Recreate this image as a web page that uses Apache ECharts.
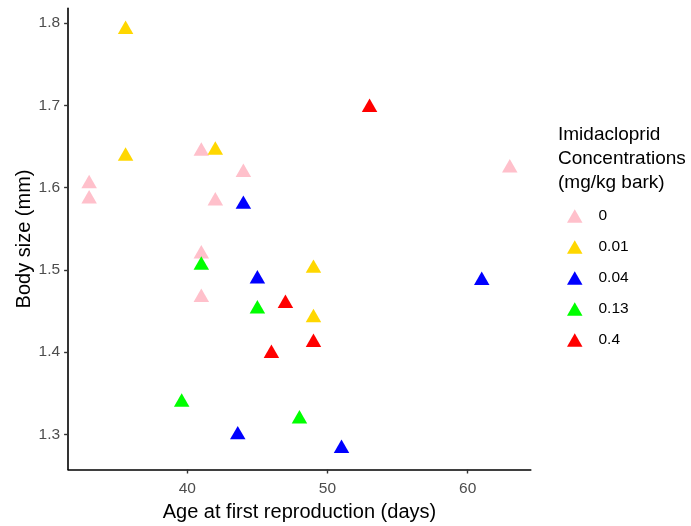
<!DOCTYPE html>
<html>
<head>
<meta charset="utf-8">
<script src="https://cdn.jsdelivr.net/npm/echarts@6/dist/echarts.min.js"></script>
<style>
  html, body { margin: 0; padding: 0; background: #ffffff; }
  #chart { width: 691px; height: 526px; }
</style>
</head>
<body>
<div id="chart"></div>
<script>
// Imidacloprid concentration groups (mg/kg bark)
const concentrations = ['0', '0.01', '0.04', '0.13', '0.4'];
const groupColors = ['#FFC0CB', '#FFD700', '#0000FF', '#00FF00', '#FF0000'];

// Age at first reproduction (days) and body size (mm) per group
const age0 = [33, 33, 41, 44, 42, 41, 41, 63];
const size0 = [1.6046, 1.586, 1.6442, 1.6183, 1.5837, 1.5193, 1.4663, 1.6237];

const age001 = [35.6, 35.6, 42, 49, 49];
const size001 = [1.7922, 1.6381, 1.6454, 1.5017, 1.4417];

const age004 = [44, 45, 43.6, 61, 51];
const size004 = [1.5795, 1.4889, 1.2993, 1.487, 1.2827];

const age013 = [41, 45, 39.6, 48];
const size013 = [1.5056, 1.4524, 1.339, 1.3187];

const age04 = [47, 46, 53, 49];
const size04 = [1.459, 1.3982, 1.6973, 1.4116];

const xTicks = [40, 50, 60];
const yTicks = [1.3, 1.4, 1.5, 1.6, 1.7, 1.8];

const ages = [age0, age001, age004, age013, age04];
const sizes = [size0, size001, size004, size013, size04];

const FONT = '"Liberation Sans", Arial, sans-serif';

const series = concentrations.map((name, g) => ({
  name: name,
  type: 'scatter',
  symbol: 'triangle',
  symbolSize: [15.5, 13.4],
  symbolOffset: [0, -2.2],
  itemStyle: { color: groupColors[g], opacity: 1 },
  emphasis: { disabled: true },
  data: ages[g].map((a, i) => [a, sizes[g][i]])
}));

const chart = echarts.init(document.getElementById('chart'), null, { renderer: 'canvas' });
chart.setOption({
  animation: false,
  backgroundColor: '#ffffff',
  title: {
    text: 'Imidacloprid\nConcentrations\n(mg/kg bark)',
    left: 558,
    top: 123,
    padding: 0,
    textStyle: {
      fontFamily: FONT,
      fontSize: 19,
      fontWeight: 'normal',
      color: '#000000',
      lineHeight: 24
    }
  },
  legend: {
    data: concentrations,
    orient: 'vertical',
    left: 567,
    top: 208,
    padding: 0,
    icon: 'triangle',
    itemWidth: 15.5,
    itemHeight: 13.4,
    itemGap: 15,
    selectedMode: false,
    textStyle: {
      fontFamily: FONT,
      fontSize: 15.5,
      color: '#000000',
      lineHeight: 14,
      padding: [0, 0, 0, 11]
    }
  },
  grid: {
    left: 68.1,
    right: 160.2,
    top: 8.4,
    bottom: 56.5,
    containLabel: false,
    outerBoundsMode: 'none'
  },
  xAxis: {
    type: 'value',
    min: 31.5,
    max: 64.5,
    name: 'Age at first reproduction (days)',
    nameLocation: 'middle',
    nameGap: 33,
    nameMoveOverlap: false,
    nameTextStyle: { fontFamily: FONT, fontSize: 20, color: '#000000' },
    axisLine: { show: true, onZero: false, lineStyle: { color: '#000000', width: 1.6 } },
    axisTick: { show: true, length: 4, customValues: xTicks, lineStyle: { color: '#333333', width: 1.4 } },
    axisLabel: { customValues: xTicks, margin: 11, fontFamily: FONT, fontSize: 15.5, color: '#4D4D4D' },
    splitLine: { show: false }
  },
  yAxis: {
    type: 'value',
    min: 1.2572,
    max: 1.8177,
    name: 'Body size (mm)',
    nameLocation: 'middle',
    nameGap: 34,
    nameMoveOverlap: false,
    nameTextStyle: { fontFamily: FONT, fontSize: 20, color: '#000000' },
    axisLine: { show: true, onZero: false, lineStyle: { color: '#000000', width: 1.6 } },
    axisTick: { show: true, length: 4, customValues: yTicks, lineStyle: { color: '#333333', width: 1.4 } },
    axisLabel: {
      customValues: yTicks,
      margin: 8,
      fontFamily: FONT,
      fontSize: 15.5,
      color: '#4D4D4D',
      formatter: v => v.toFixed(1)
    },
    splitLine: { show: false }
  },
  series: series
});
</script>
</body>
</html>
